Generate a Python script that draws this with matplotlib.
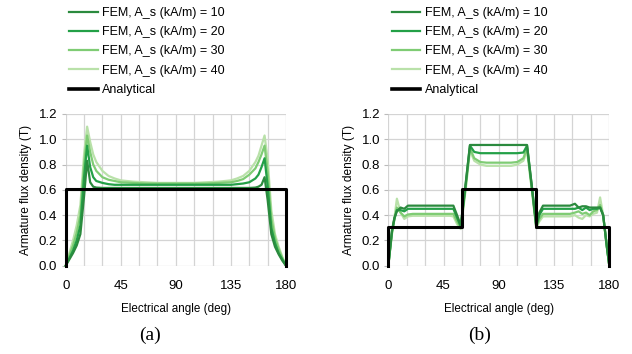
import matplotlib
matplotlib.use("Agg")
import matplotlib.pyplot as plt

# ---------------- data: panel (a) ----------------
xa = [0, 3, 6, 9, 12, 15, 17.5, 20, 22.5, 25, 30, 35, 40, 45, 55, 65, 75, 90,
      105, 115, 125, 135, 140, 145, 150, 155, 157.5, 160, 162.5, 165, 168, 171, 174, 177, 180]
a10 = [0.0, 0.05, 0.10, 0.16, 0.25, 0.55, 0.83, 0.66, 0.625, 0.618, 0.615, 0.615, 0.615, 0.615, 0.615, 0.615, 0.615, 0.615,
       0.615, 0.615, 0.615, 0.615, 0.615, 0.615, 0.615, 0.618, 0.625, 0.64, 0.70, 0.52, 0.25, 0.15, 0.09, 0.04, 0.0]
a20 = [0.0, 0.06, 0.12, 0.20, 0.32, 0.70, 0.95, 0.78, 0.70, 0.67, 0.655, 0.645, 0.64, 0.64, 0.64, 0.64, 0.64, 0.64,
       0.64, 0.64, 0.64, 0.64, 0.645, 0.65, 0.66, 0.69, 0.72, 0.78, 0.85, 0.63, 0.30, 0.18, 0.10, 0.05, 0.0]
a30 = [0.0, 0.08, 0.16, 0.26, 0.40, 0.80, 1.03, 0.90, 0.80, 0.75, 0.70, 0.68, 0.67, 0.66, 0.655, 0.65, 0.65, 0.65,
       0.65, 0.65, 0.655, 0.66, 0.67, 0.685, 0.72, 0.77, 0.82, 0.88, 0.95, 0.74, 0.37, 0.22, 0.13, 0.06, 0.0]
a40 = [0.0, 0.10, 0.20, 0.32, 0.48, 0.88, 1.10, 0.98, 0.88, 0.82, 0.75, 0.71, 0.69, 0.675, 0.665, 0.66, 0.655, 0.655,
       0.655, 0.66, 0.665, 0.675, 0.69, 0.71, 0.75, 0.82, 0.87, 0.95, 1.03, 0.84, 0.44, 0.25, 0.15, 0.07, 0.0]
xa_an = [0, 0, 180, 180]
ya_an = [0.0, 0.61, 0.61, 0.0]

# ---------------- data: panel (b) ----------------
xb = [0, 3, 5, 7, 10, 13, 16, 20, 30, 40, 50, 53, 56, 59, 63, 66.5, 70, 75, 80, 90, 100, 105, 110, 113,
      117, 120.5, 123, 126, 130, 140, 148, 152, 155, 158, 161, 164, 167, 170, 172.5, 175, 178, 180]
b10 = [0.0, 0.28, 0.38, 0.43, 0.46, 0.45, 0.475, 0.475, 0.475, 0.475, 0.475, 0.475, 0.40, 0.32, 0.65, 0.955, 0.955, 0.955, 0.955, 0.955, 0.955, 0.955, 0.955, 0.955,
       0.62, 0.32, 0.42, 0.475, 0.475, 0.475, 0.475, 0.49, 0.46, 0.47, 0.47, 0.46, 0.46, 0.46, 0.46, 0.40, 0.15, 0.0]
b20 = [0.0, 0.27, 0.37, 0.44, 0.44, 0.43, 0.45, 0.45, 0.45, 0.45, 0.45, 0.45, 0.38, 0.31, 0.64, 0.95, 0.90, 0.89, 0.89, 0.89, 0.89, 0.89, 0.895, 0.95,
       0.62, 0.31, 0.40, 0.45, 0.45, 0.45, 0.45, 0.45, 0.46, 0.44, 0.46, 0.44, 0.45, 0.45, 0.46, 0.40, 0.15, 0.0]
b30 = [0.0, 0.26, 0.37, 0.46, 0.42, 0.39, 0.405, 0.41, 0.41, 0.41, 0.41, 0.41, 0.35, 0.30, 0.62, 0.93, 0.85, 0.82, 0.815, 0.815, 0.815, 0.82, 0.85, 0.93,
       0.60, 0.30, 0.37, 0.41, 0.41, 0.41, 0.41, 0.42, 0.43, 0.41, 0.42, 0.40, 0.43, 0.44, 0.48, 0.40, 0.15, 0.0]
b40 = [0.0, 0.25, 0.38, 0.53, 0.42, 0.37, 0.39, 0.395, 0.395, 0.395, 0.395, 0.39, 0.33, 0.29, 0.60, 0.91, 0.83, 0.80, 0.79, 0.79, 0.79, 0.80, 0.83, 0.91,
       0.59, 0.30, 0.35, 0.39, 0.39, 0.39, 0.39, 0.40, 0.38, 0.37, 0.40, 0.39, 0.41, 0.42, 0.54, 0.40, 0.15, 0.0]
xb_an = [0, 0, 60, 60, 120, 120, 180, 180]
yb_an = [0.0, 0.305, 0.305, 0.61, 0.61, 0.305, 0.305, 0.0]

labels = ["FEM, A_s (kA/m) = 10", "FEM, A_s (kA/m) = 20",
          "FEM, A_s (kA/m) = 30", "FEM, A_s (kA/m) = 40", "Analytical"]
colors = ["#2b8a3e", "#23a047", "#7fcc74", "#b9e1a9"]
xticks = [0, 45, 90, 135, 180]
yticks = [0.0, 0.2, 0.4, 0.6, 0.8, 1.0, 1.2]

plt.rcParams['font.family'] = ['Liberation Sans', 'DejaVu Sans']

fig = plt.figure(figsize=(6.32, 3.54), dpi=100)
W, H = 632, 354
axA = fig.add_axes([65.7 / W, 88.3 / H, (286 - 65.7) / W, (265.7 - 114) / H])
axB = fig.add_axes([388.3 / W, 88.3 / H, (609.3 - 388.3) / W, (265.7 - 114) / H])

def style(ax):
    ax.set_xlim(0, 180)
    ax.set_ylim(0, 1.2)
    ax.set_xticks(xticks)
    ax.set_xticks(range(0, 181, 15), minor=True)
    ax.set_yticks(yticks)
    ax.set_yticklabels([f"{v:.1f}" for v in yticks])
    ax.grid(True, which='both', color='#d4d4d4', linewidth=0.9)
    ax.set_axisbelow(True)
    for s in ax.spines.values():
        s.set_visible(False)
    ax.tick_params(axis='x', which='both', length=0, labelsize=9.5, pad=10)
    ax.tick_params(axis='y', which='both', length=3, color='#bbbbbb', labelsize=9.5, pad=3)
    ax.set_xlabel("Electrical angle (deg)", fontsize=8.4, labelpad=8)
    ax.set_ylabel("Armature flux density (T)", fontsize=8.6, labelpad=5)

for ax, x, series, xan, yan in [
        (axA, xa, [a10, a20, a30, a40], xa_an, ya_an),
        (axB, xb, [b10, b20, b30, b40], xb_an, yb_an)]:
    style(ax)
    handles = []
    for ys, c, lab in zip(series[::-1], colors[::-1], labels[:4][::-1]):
        h, = ax.plot(x, ys, color=c, linewidth=1.6, label=lab, clip_on=False)
        handles.append(h)
    handles = handles[::-1]
    h, = ax.plot(xan, yan, color='black', linewidth=2.2, label=labels[4], clip_on=False)
    handles.append(h)
    x0 = ax.get_position().x0
    leg = ax.legend(handles, labels, loc='upper left', frameon=False, fontsize=9,
                    bbox_to_anchor=(x0 - 3.5 / W, 1.0),
                    bbox_transform=fig.transFigure, handlelength=2.3,
                    handletextpad=0.35, labelspacing=0.58, borderaxespad=0.0,
                    borderpad=0.55)
    for lh in leg.get_lines()[4:]:
        lh.set_linewidth(2.6)

fig.text(150 / W, 1 - 335 / H, "(a)", ha='center', va='center', fontsize=14,
         family=['Liberation Serif', 'DejaVu Serif'])
fig.text(480 / W, 1 - 335 / H, "(b)", ha='center', va='center', fontsize=14,
         family=['Liberation Serif', 'DejaVu Serif'])

fig.savefig("out.png", dpi=100)
